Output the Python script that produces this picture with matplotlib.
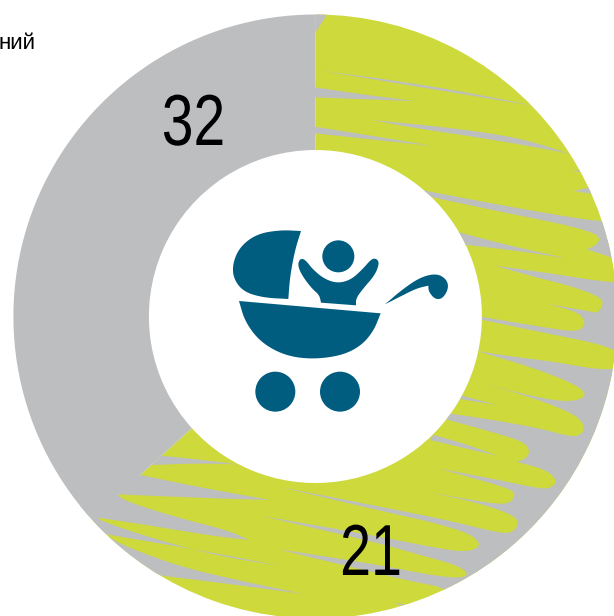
import matplotlib
matplotlib.use("Agg")
import matplotlib.pyplot as plt
import matplotlib.patheffects as pe
import numpy as np
from matplotlib.patches import Wedge, Circle
from matplotlib.transforms import Affine2D

# ---- chart data
ring_names = ["green", "grey"]
ring_shares = [63.3, 36.7]          # share of the ring as drawn
ring_colors = ["#CED93C", "#BCBEC0"]
label_values = ["32", "21"]
legend_fragment = "ний"

W, H = 614, 616
CX, CY, R_OUT, R_IN = 315.4, 316.5, 302.0, 166.5
BLUE = "#005D80"

fig = plt.figure(figsize=(W / 100, H / 100), dpi=100)
ax = fig.add_axes([0, 0, 1, 1])
ax.pie(ring_shares, colors=ring_colors, startangle=90, counterclock=False,
       center=(CX, H - CY), radius=R_OUT, frame=True,
       wedgeprops=dict(width=R_OUT - R_IN, linewidth=0))
ax.set_xlim(0, W)
ax.set_ylim(0, H)
ax.axis("off")
clip = Wedge((CX, H - CY), R_OUT, 0, 360, width=R_OUT - R_IN, fc="none", ec="none")
ax.add_patch(clip)


class Squeeze(pe.AbstractPathEffect):
    """Condense a real text horizontally about a pixel column."""

    def __init__(self, cx, sx):
        super().__init__()
        self.cx, self.sx = cx, sx

    def draw_path(self, renderer, gc, tpath, affine, rgbFace=None):
        squeeze = Affine2D().translate(-self.cx, 0).scale(self.sx, 1).translate(self.cx, 0)
        renderer.draw_path(gc, tpath, affine + squeeze, rgbFace)


def chaikin(points, rounds=3):
    pts = []
    for p in points:
        pts.append(p[:2])
        if len(p) == 3:          # sharp corner
            pts.append(p[:2])
    a = np.array(pts, float)
    for _ in range(rounds):
        b = np.roll(a, -1, axis=0)
        q = np.empty((2 * len(a), 2))
        q[0::2] = 0.75 * a + 0.25 * b
        q[1::2] = 0.25 * a + 0.75 * b
        a = q
    return a


def crop(ox, oy, pts):
    return [((p[0] / 3 + ox), (p[1] / 3 + oy)) + tuple(p[2:]) for p in pts]


def draw(pts, color, clipped=True, z=3):
    a = chaikin(pts)
    poly, = ax.fill(a[:, 0], H - a[:, 1], color=color, lw=0, zorder=z)
    if clipped:
        poly.set_clip_path(clip)


Z1 = (300, 0)
Z2 = (380, 300)
Z3 = (80, 420)
grey = ring_colors[1]

# scribble texture: grey showing through the green stroke
slivers_top = [
    [(46, 98, 1), (46, 30, 1), (85, 30, 1), (80, 45, 1)],
    [(65, 212, 1), (300, 244), (500, 277), (700, 317, 1), (660, 311), (480, 281), (280, 248)],
    [(44, 262, 1), (200, 285), (345, 303, 1), (200, 298), (44, 292, 1)],
    [(215, 360, 1), (400, 378), (560, 398), (680, 420), (810, 462, 1), (700, 440), (520, 410), (350, 385)],
    [(44, 380, 1), (200, 405), (400, 438, 1), (250, 422), (44, 400, 1)],
    [(815, 513, 1), (845, 515, 1), (880, 505, 1)],
    [(820, 573, 1), (860, 565), (868, 560, 1), (900, 585, 1)],
    [(1000, 660, 1), (905, 665), (800, 650), (600, 615), (365, 570, 1), (375, 587, 1), (600, 635),
     (800, 675), (885, 700), (900, 715), (890, 735), (860, 748, 1), (935, 772), (1000, 800, 1)],
    [(470, 695, 1), (620, 735), (800, 775, 1), (650, 752), (485, 733, 1)],
]
for s in slivers_top:
    draw(crop(*Z1, s), grey)

teeth_a = [(1100, 850, 1), (942, 850), (750, 820), (585, 797, 1), (700, 830), (820, 860), (910, 895), (905, 925)]
teeth_b = [(650, 38, 1), (505, 12, 1), (590, 35), (615, 60), (610, 85), (580, 95), (480, 80), (295, 49, 1),
           (295, 57, 1), (500, 100), (650, 130), (702, 150), (725, 155, 1), (725, 205, 1), (702, 207), (650, 208),
           (520, 185), (400, 170), (290, 153, 1),
           (450, 200), (580, 250), (620, 280), (600, 300), (540, 305), (420, 280), (285, 244, 1),
           (450, 290), (580, 340), (615, 375), (605, 405), (570, 410), (480, 385), (340, 360), (205, 340, 1),
           (195, 357, 1), (350, 400), (430, 425), (450, 450), (440, 475), (410, 485, 1),
           (500, 510), (530, 540), (520, 560), (490, 568), (380, 545), (175, 505, 1),
           (300, 540), (400, 570), (405, 590), (385, 612), (330, 610), (150, 577, 1),
           (300, 610), (400, 645), (418, 670), (395, 700), (350, 697), (200, 660), (0, 620), (-300, 561, 1),
           (0, 632), (150, 665), (270, 700), (305, 735), (270, 755), (200, 750), (0, 710), (-354, 648, 1),
           (0, 730), (120, 765), (230, 795), (268, 822), (240, 835), (150, 825), (0, 795), (-309, 747, 1),
           (0, 822), (100, 845), (205, 865), (300, 950, 1)]
teeth_close = [(700, 700, 1), (700, 280, 1)]
draw(crop(*Z1, teeth_a) + crop(*Z2, teeth_b) + teeth_close, grey)

draw(crop(*Z2, [(245, 287, 1), (350, 315, 1), (240, 297, 1)]), grey)
draw(crop(*Z2, [(150, 420, 1), (355, 468, 1), (250, 430), (160, 405, 1)]), grey)
draw(crop(*Z2, [(45, 908, 1), (85, 916, 1), (60, 916, 1)]), grey)

slivers_low = [
    [(245, 107, 1), (350, 118), (472, 133, 1), (350, 130), (215, 135, 1)],
    [(182, 165, 1), (350, 200), (570, 240, 1), (400, 235), (110, 223, 1), (100, 190, 1)],
    [(110, 223, 1), (140, 245), (300, 295), (440, 330), (508, 360, 1), (400, 348), (200, 315), (55, 293, 1),
     (62, 302), (200, 350), (400, 405), (600, 438, 1), (400, 398), (75, 342, 1), (0, 340, 1), (0, 250, 1)],
    [(80, 345, 1), (125, 375), (300, 440), (470, 480), (670, 522, 1), (450, 492), (230, 465, 1),
     (200, 540, 1), (50, 420, 1)],
]
for s in slivers_low:
    draw(crop(*Z3, s), grey)

# stroller icon
hood = [(243, 33, 1), (180, 30), (110, 42), (60, 80), (38, 130), (40, 175), (70, 215), (130, 233),
        (205, 237, 1), (210, 170), (225, 90)]
body = [(57, 243, 1), (482, 280, 1), (460, 335), (420, 380), (360, 408), (270, 418), (190, 405), (120, 365), (75, 305)]
baby = [(303, 248, 1), (408, 256, 1), (408, 235), (430, 205), (465, 165), (478, 130), (470, 116), (455, 116),
        (430, 145), (395, 178), (355, 190), (315, 178), (280, 150), (255, 118), (240, 116), (233, 135),
        (245, 165), (275, 205), (298, 225)]
handle = [(495, 253, 1), (545, 210), (600, 172), (650, 160), (680, 178), (686, 205), (668, 236), (645, 238),
          (626, 215), (625, 197, 1), (590, 205), (540, 230)]
for shape in (hood, body, baby, handle):
    draw(crop(220, 220, shape), BLUE, clipped=False, z=4)
for zx, zy, zr in [(355, 109, 48), (166, 515, 60), (360, 515, 60)]:
    ax.add_patch(Circle((220 + zx / 3, H - (220 + zy / 3)), zr / 3, fc=BLUE, ec="none", zorder=4))

# labels
t32 = ax.text(193.5, H - 145, label_values[0], family="Liberation Sans", fontsize=52,
              ha="center", va="baseline", color="black", zorder=5)
t32.set_path_effects([Squeeze(193.5, 0.79)])
t21 = ax.text(371, H - 575, label_values[1], family="Liberation Sans", fontsize=52,
              ha="center", va="baseline", color="black", zorder=5)
t21.set_path_effects([Squeeze(371, 0.77)])
ax.text(36, H - 49, legend_fragment, family="Liberation Sans", fontsize=16, ha="right", va="baseline",
        color="black", zorder=5)

fig.savefig("out.png", dpi=100)
